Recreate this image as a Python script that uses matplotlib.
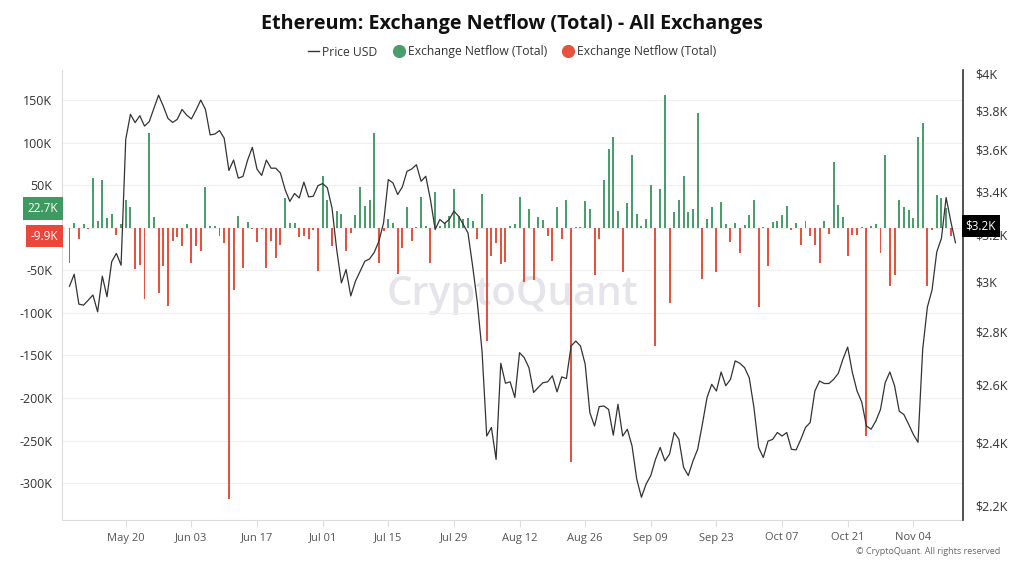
import numpy as np
import pandas as pd
import matplotlib
matplotlib.use("Agg")
import matplotlib.pyplot as plt
import matplotlib.dates as mdates
import matplotlib.transforms as mtransforms
from matplotlib.lines import Line2D
from matplotlib.ticker import FixedLocator, FuncFormatter, NullLocator

plt.rcParams['font.family'] = ['Open Sans', 'DejaVu Sans']

# daily data, first day 2024-05-08
start_day = '2024-05-08'

price_usd = [
    2980, 3030, 2907, 2903, 2923, 2944, 2876, 3022, 2937, 3083,
    3119, 3068, 3654, 3782, 3739, 3775, 3721, 3744, 3813, 3884,
    3826, 3761, 3740, 3756, 3808, 3778, 3758, 3805, 3858, 3808,
    3676, 3680, 3698, 3659, 3499, 3550, 3462, 3470, 3550, 3613,
    3505, 3475, 3550, 3510, 3510, 3486, 3407, 3352, 3389, 3368,
    3443, 3373, 3376, 3426, 3436, 3416, 3321, 3135, 2994, 3050,
    2940, 3001, 3043, 3085, 3095, 3123, 3172, 3254, 3455, 3439,
    3384, 3420, 3495, 3506, 3527, 3447, 3471, 3360, 3224, 3269,
    3251, 3269, 3307, 3284, 3246, 3209, 3064, 2913, 2724, 2421,
    2450, 2344, 2678, 2605, 2610, 2554, 2718, 2699, 2662, 2572,
    2590, 2607, 2610, 2632, 2574, 2628, 2622, 2743, 2762, 2743,
    2675, 2501, 2455, 2522, 2524, 2512, 2424, 2530, 2421, 2444,
    2388, 2281, 2224, 2265, 2292, 2344, 2383, 2339, 2361, 2433,
    2410, 2318, 2292, 2339, 2377, 2461, 2554, 2601, 2577, 2646,
    2596, 2619, 2687, 2678, 2662, 2625, 2519, 2383, 2350, 2404,
    2410, 2433, 2421, 2433, 2377, 2375, 2410, 2450, 2467, 2577,
    2613, 2604, 2604, 2619, 2641, 2694, 2739, 2644, 2577, 2538,
    2455, 2444, 2472, 2512, 2607, 2646, 2596, 2506, 2494, 2461,
    2427, 2400, 2730, 2895, 2965, 3125, 3185, 3370, 3260, 3165,
]

# exchange netflow in thousands of ETH
netflow_k = [
    -41, 6, -13, 4, -1, 58, 8, 56, 11, 16,
    -9, 4, 33, 24, -49, -44, -84, 111, 13, -77,
    -45, -92, -16, -11, -22, 4, -41, -22, -27, 48,
    2, 2, -10, -18, -319, -73, 14, -47, 7, -1,
    -17, -2, -47, -16, -36, -20, 35, 5, 5, -11,
    -10, -13, -3, -51, 61, 33, -22, 20, 16, -27,
    -6, 15, 48, 25, 33, 111, -42, -4, 10, 6,
    -54, -24, 24, -16, 1, 36, 2, -42, 42, 2,
    6, 14, 46, 14, 10, 11, 8, -13, 40, -133,
    -33, -18, -43, -40, 2, 4, 36, -64, 22, -62,
    13, 9, -10, -39, 24, -13, 33, -275, 1, 1,
    31, 22, -55, -13, 56, 93, 107, 20, -52, 29,
    85, 16, 2, 10, 50, -139, 46, 156, -89, 18,
    33, 61, 19, 22, 135, -60, 10, 24, -52, 30,
    4, -17, 5, -30, 3, 15, 33, -93, 1, -45,
    7, 8, 15, 25, -3, 5, -20, 8, -10, -20,
    -41, 8, -7, 77, 27, 13, -33, -8, -9, 1,
    -245, 2, 4, -30, 85, -69, -56, 33, 24, 21,
    12, 107, 123, -69, -3, 38, 35, 22.7, -9.9,
]

left_ticks = [-300000, -250000, -200000, -150000, -100000, -50000, 0, 50000, 100000, 150000]
right_ticks = [2200, 2400, 2600, 2800, 3000, 3200, 3400, 3600, 3800, 4000]
date_ticks = pd.date_range('2024-05-20', '2024-11-04', freq='14D')

green = '#4a9e6b'
red = '#e5533f'
green_box = '#3f9a62'
red_box = '#e8473a'

price_x = mdates.date2num(pd.date_range(start_day, periods=len(price_usd), freq='D'))
flow_x = mdates.date2num(pd.date_range(start_day, periods=len(netflow_k), freq='D'))
flow = np.array(netflow_k) * 1000.0
pos = flow >= 0
neg = flow < 0

fig = plt.figure(figsize=(10.24, 5.76), dpi=100)
ax = fig.add_axes([62 / 1024, 1 - 520 / 576, 901 / 1024, 450 / 576])
ax2 = ax.twinx()

ax.text(0.5, 0.5, 'CryptoQuant', transform=ax.transAxes, ha='center', va='center',
        fontsize=29, fontweight='semibold', color='#e4e4ea', zorder=0)

ax.bar(flow_x[pos], flow[pos], width=0.42, color=green, zorder=2)
ax.bar(flow_x[neg], flow[neg], width=0.42, color=red, zorder=2)
ax2.plot(price_x, price_usd, color='#333333', lw=0.9)

x0 = mdates.date2num(pd.Timestamp(start_day))
ax.set_xlim(x0 - 1.6, x0 + 190.6)
ax.set_ylim(-343400, 185300)
ax.yaxis.set_major_locator(FixedLocator(left_ticks))
# zero label sits under the last-value tags, so leave it blank
ax.yaxis.set_major_formatter(FuncFormatter(lambda v, p: '' if v == 0 else f'{int(v / 1000)}K'))
ax.yaxis.grid(True, color='#efefef', lw=0.8)
ax.set_axisbelow(True)
ax.xaxis.set_major_locator(FixedLocator(mdates.date2num(date_ticks)))
ax.xaxis.set_major_formatter(mdates.DateFormatter('%b %d'))
ax.tick_params(axis='y', length=0, pad=7, labelsize=9, labelcolor='#333333')
ax.tick_params(axis='x', length=5, color='#dddddd', pad=4, labelsize=8, labelcolor='#555555')

ax2.set_yscale('log')
ax2.set_ylim(2155, 4022)
ax2.yaxis.set_major_locator(FixedLocator(right_ticks))
ax2.yaxis.set_minor_locator(NullLocator())
ax2.yaxis.set_major_formatter(FuncFormatter(lambda v, p: f'${v / 1000:g}K'))
ax2.tick_params(axis='y', length=0, pad=9, labelsize=9, labelcolor='#333333')

for s in ['top', 'right']:
    ax.spines[s].set_visible(False)
ax.spines['left'].set_color('#dddddd')
ax.spines['bottom'].set_color('#dddddd')
for s in ['top', 'left', 'bottom']:
    ax2.spines[s].set_visible(False)
ax2.spines['right'].set_color('#333333')
ax2.spines['right'].set_linewidth(1.2)

# last value tags
tr = mtransforms.blended_transform_factory(ax.transAxes, ax.transData)
ax.text(-0.004, netflow_k[-2] * 1000, f'{netflow_k[-2]}K', transform=tr, ha='right', va='center',
        fontsize=8.5, color='white', zorder=5,
        bbox=dict(boxstyle='square,pad=0.4', fc=green_box, ec='none'))
ax.text(-0.004, netflow_k[-1] * 1000, f'{netflow_k[-1]}K', transform=tr, ha='right', va='center',
        fontsize=8.5, color='white', zorder=5,
        bbox=dict(boxstyle='square,pad=0.4', fc=red_box, ec='none'))
tr2 = mtransforms.blended_transform_factory(ax2.transAxes, ax2.transData)
ax2.text(1.003, 3240, '$3.2K', transform=tr2, ha='left', va='center', fontsize=8.5,
         color='white', zorder=5, bbox=dict(boxstyle='square,pad=0.35', fc='black', ec='none'))

fig.text(0.5, 1 - 24 / 576, 'Ethereum: Exchange Netflow (Total) - All Exchanges',
         ha='center', va='center', fontsize=14.2, fontweight='bold', color='#111111')

handles = [Line2D([], [], color='#333333', lw=1),
           Line2D([], [], marker='o', ls='none', color=green, markersize=8.5),
           Line2D([], [], marker='o', ls='none', color=red, markersize=8.5)]
labels = ['Price USD', 'Exchange Netflow (Total)', 'Exchange Netflow (Total)']
fig.legend(handles, labels, loc='center', bbox_to_anchor=(0.5, 1 - 52 / 576), ncol=3,
           frameon=False, fontsize=8.7, handlelength=0.9, handletextpad=0.3,
           columnspacing=1.3, labelcolor='#333333')

fig.text(1000 / 1024, 1 - 552 / 576, '\u00a9 CryptoQuant. All rights reserved', ha='right',
         va='center', fontsize=6.5, color='#666666')

fig.savefig('out.png', dpi=100)
